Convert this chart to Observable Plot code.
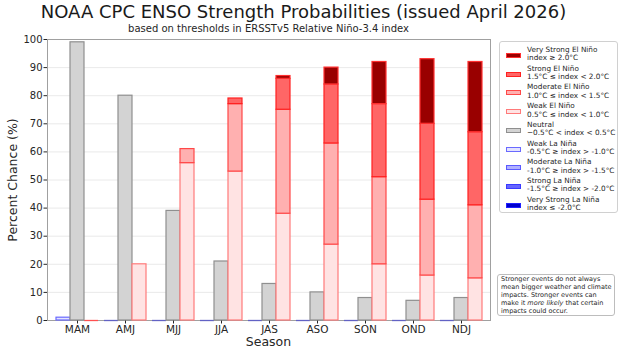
<!DOCTYPE html>
<html><head><meta charset="utf-8">
<script src="https://cdn.jsdelivr.net/npm/d3@7"></script>
<script src="https://cdn.jsdelivr.net/npm/@observablehq/plot@0.6"></script>
<style>
body{margin:0;background:#fff;font-family:"DejaVu Sans",sans-serif;color:#262626;}
#wrap{position:relative;width:624px;height:351px;overflow:hidden;}
#wrap svg{position:absolute;left:0;top:0;background:transparent;}
.t{position:absolute;white-space:nowrap;}
#title{left:0;width:607px;top:1px;text-align:center;font-size:18px;color:#1a1a1a;}
#sub{left:47px;width:443px;top:23px;text-align:center;font-size:10px;}
#ylab{left:12px;top:180px;font-size:12.5px;transform:translate(-50%,-50%) rotate(-90deg);}
#xlab{left:47px;width:443px;top:334px;text-align:center;font-size:12.5px;}
#legend{position:absolute;left:499px;top:41px;width:119px;height:172px;border:1px solid #d0d0d0;border-radius:3px;box-sizing:border-box;background:#fff;}
.item{position:absolute;left:0;width:118px;height:18px;}
.sw{position:absolute;left:6px;top:7px;width:15px;height:5px;box-sizing:border-box;border:1.3px solid;}
.lt{position:absolute;left:27px;top:0;font-size:7.3px;line-height:8.4px;white-space:nowrap;color:#262626;}
#note{position:absolute;left:497px;top:273.5px;width:118px;height:42px;border:1px solid #bdbdbd;border-radius:3px;box-sizing:border-box;padding:0 0 0 3px;font-size:6.5px;line-height:8px;color:#262626;white-space:nowrap;}
</style></head><body>
<div id="wrap"></div>
<script>
// ---- data ----
const seasons = ["MAM","AMJ","MJJ","JJA","JAS","ASO","SON","OND","NDJ"];
const groups = ["La Niña","Neutral","El Niño"];
const neutral       = [99,80,39,21,13,10, 8, 7, 8];
const weakLaNina    = [ 1, 0, 0, 0, 0, 0, 0, 0, 0];
const modLaNina     = [ 0, 0, 0, 0, 0, 0, 0, 0, 0];
const strongLaNina  = [ 0, 0, 0, 0, 0, 0, 0, 0, 0];
const vstrongLaNina = [ 0, 0, 0, 0, 0, 0, 0, 0, 0];
const weakElNino    = [ 0,20,56,53,38,27,20,16,15];
const modElNino     = [ 0, 0, 5,24,37,36,31,27,26];
const strongElNino  = [ 0, 0, 0, 2,11,21,26,27,26];
const vstrongElNino = [ 0, 0, 0, 0, 1, 6,15,23,25];
const yTicks = [0,10,20,30,40,50,60,70,80,90,100];
const legendLabels = [
  ["Very Strong El Niño","index ≥ 2.0°C"],
  ["Strong El Niño","1.5°C ≤ index < 2.0°C"],
  ["Moderate El Niño","1.0°C ≤ index < 1.5°C"],
  ["Weak El Niño","0.5°C ≤ index < 1.0°C"],
  ["Neutral","−0.5°C < index < 0.5°C"],
  ["Weak La Niña","-0.5°C ≥ index > -1.0°C"],
  ["Moderate La Niña","-1.0°C ≥ index > -1.5°C"],
  ["Strong La Niña","-1.5°C ≥ index > -2.0°C"],
  ["Very Strong La Niña","index ≤ -2.0°C"]
];
const noteText = "Stronger events do not always<br>mean bigger weather and climate<br>impacts. Stronger events can<br>make it <i>more likely</i> that certain<br>impacts could occur.";

// ---- styles ----
const style = {
  "Very Strong El Niño": {fill:"#990000", stroke:"#ff3030"},
  "Strong El Niño":      {fill:"#ff6666", stroke:"#ff2020"},
  "Moderate El Niño":    {fill:"#ffb0b0", stroke:"#ff4848"},
  "Weak El Niño":        {fill:"#ffe3e3", stroke:"#ff7a7a"},
  "Neutral":             {fill:"#d3d3d3", stroke:"#8f8f8f"},
  "Weak La Niña":        {fill:"#e3e3ff", stroke:"#6a6aff"},
  "Moderate La Niña":    {fill:"#b0b0ff", stroke:"#5a5aff"},
  "Strong La Niña":      {fill:"#6666ff", stroke:"#3a3aff"},
  "Very Strong La Niña": {fill:"#0000cc", stroke:"#2020ff"}
};

const laCats = [["Weak La Niña",weakLaNina],["Moderate La Niña",modLaNina],["Strong La Niña",strongLaNina],["Very Strong La Niña",vstrongLaNina]];
const elCats = [["Weak El Niño",weakElNino],["Moderate El Niño",modElNino],["Strong El Niño",strongElNino],["Very Strong El Niño",vstrongElNino]];
const rows = [];
seasons.forEach((s,i) => {
  laCats.forEach(([c,v]) => rows.push({season:s, group:"La Niña", cat:c, value:v[i]}));
  rows.push({season:s, group:"Neutral", cat:"Neutral", value:neutral[i]});
  elCats.forEach(([c,v]) => rows.push({season:s, group:"El Niño", cat:c, value:v[i]}));
});
const totals = d3.rollup(rows, v => d3.sum(v, d => d.value), d => d.season, d => d.group);
const zeroGroups = [];
seasons.forEach(s => groups.forEach(g => {
  if (totals.get(s).get(g) === 0) zeroGroups.push({season:s, group:g});
}));
const zeroStroke = {"La Niña":"#6262c4","El Niño":"#ff5050","Neutral":"#8f8f8f"};

const M = {width:624, height:351, marginLeft:47, marginRight:134, marginTop:39, marginBottom:31};
const wrap = document.getElementById("wrap");

const back = Plot.plot({
  ...M,
  style:{fontFamily:"DejaVu Sans", fontSize:"10px", color:"#262626", background:"transparent"},
  y:{domain:[0,100], ticks:yTicks, tickSize:3.5, tickPadding:1.5, label:null},
  marks:[
    Plot.gridY(yTicks, {stroke:"#e4e4e4", strokeOpacity:1, strokeWidth:0.8}),
    Plot.frame({stroke:"#a0a0a0"})
  ]
});
wrap.appendChild(back);

const front = Plot.plot({
  ...M,
  style:{fontFamily:"DejaVu Sans", fontSize:"10.5px", color:"#262626", background:"transparent"},
  fx:{domain:seasons, paddingInner:0.0915, paddingOuter:0.158, axis:"bottom", label:null, tickSize:3.5, tickPadding:2},
  x:{domain:groups, padding:0, axis:null},
  y:{domain:[0,100], axis:null},
  color:{type:"identity"},
  marks:[
    Plot.tickY(zeroGroups, {fx:"season", x:"group", y:() => 0, stroke: d => zeroStroke[d.group], strokeWidth:1.3}),
    Plot.barY(rows, {fx:"season", x:"group", y:"value", order:null,
      fill: d => style[d.cat].fill, stroke: d => style[d.cat].stroke, strokeWidth:1.2})
  ]
});
wrap.appendChild(front);

function addText(id, html){ const d=document.createElement("div"); d.className="t"; d.id=id; d.innerHTML=html; wrap.appendChild(d); }
addText("title","NOAA CPC ENSO Strength Probabilities (issued April 2026)");
addText("sub","based on thresholds in ERSSTv5 Relative Niño-3.4 index");
addText("ylab","Percent Chance (%)");
addText("xlab","Season");

const leg = document.createElement("div"); leg.id="legend";
legendLabels.forEach(([a,b],i) => {
  const it = document.createElement("div"); it.className="item"; it.style.top = (4 + i*18.7)+"px";
  const sw = document.createElement("div"); sw.className="sw";
  sw.style.background = style[a].fill; sw.style.borderColor = style[a].stroke;
  const lt = document.createElement("div"); lt.className="lt"; lt.innerHTML = a + "<br>" + b;
  it.appendChild(sw); it.appendChild(lt); leg.appendChild(it);
});
wrap.appendChild(leg);
const note = document.createElement("div"); note.id="note"; note.innerHTML = noteText; wrap.appendChild(note);
</script>
</body></html>
